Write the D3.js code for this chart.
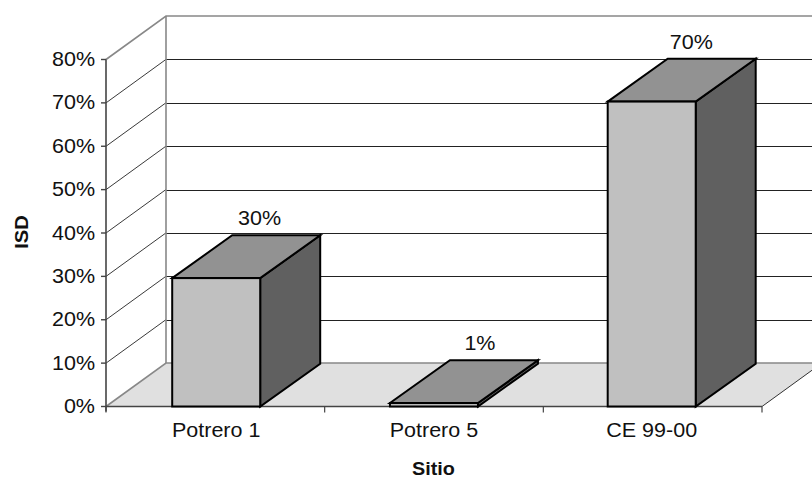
<!DOCTYPE html>
<html><head><meta charset="utf-8">
<style>html,body{margin:0;padding:0;background:#fff}svg{display:block}text{font-family:"Liberation Sans",Arial,sans-serif;fill:#111}</style>
<script src="https://cdn.jsdelivr.net/npm/d3@7"></script>
</head><body><svg id="c" width="812" height="479"></svg>
<script>
const categories = ["Potrero 1","Potrero 5","CE 99-00"];
const values = [29.6, 0.8, 70.3];
const valueLabels = ["30%","1%","70%"];
const yTicks = [0,10,20,30,40,50,60,70,80];
const yTitle = "ISD", xTitle = "Sitio";

const x0=106,x1=762,y0=406.5,y80=59.5,dx=60,dy=-43.5,barW=88,barDy=-42.8;
const svg=d3.select("#c");
const y=d3.scaleLinear().domain([0,80]).range([y0,y80]);
const x=d3.scaleBand().domain(categories).range([x0,x1]);
const barX=d3.scalePoint().domain(categories).range([216.2,651.7]);
const labelDx=[43.3,46,39.6];
const line=d3.line();
const g=svg.append("g");
function label(sel,tx,ty,anchor,size,str,bold,sx=1.05,rot=0){
  const t=sel.append("text")
    .attr("transform",`translate(${tx},${ty}) rotate(${rot}) scale(${sx},1)`)
    .attr("text-anchor",anchor).attr("font-size",size).text(str);
  if(bold)t.attr("font-weight","bold");
  return t;
}
// floor
g.append("path").attr("d",line([[x0,y0],[x0+dx,y0+dy],[x1+dx,y0+dy],[x1,y0]])+"Z").attr("fill","#e0e0e0");
// grid lines on side and back wall
yTicks.slice(1,-1).forEach(t=>{
  g.append("path").attr("d",line([[x0,y(t)],[x0+dx,y(t)+dy]])).attr("fill","none").attr("stroke","#222").attr("stroke-width",.9);
  g.append("line").attr("x1",x0+dx).attr("x2",x1+dx).attr("y1",Math.round(y(t)+dy)+.5).attr("y2",Math.round(y(t)+dy)+.5).attr("stroke","#222").attr("stroke-width",1);
});
// walls outlines
g.append("path").attr("d",line([[x0,y(80)],[x0+dx,y(80)+dy],[x1+dx,y(80)+dy]])).attr("fill","none").attr("stroke","#888").attr("stroke-width",1.6);
g.append("line").attr("x1",x0+dx).attr("x2",x0+dx).attr("y1",y(80)+dy).attr("y2",y0+dy).attr("stroke","#888").attr("stroke-width",1.6);
g.append("path").attr("d",line([[x0,y0],[x0+dx,y0+dy],[x1+dx,y0+dy]])).attr("fill","none").attr("stroke","#888").attr("stroke-width",1.6);
g.append("line").attr("x1",x1).attr("y1",y0).attr("x2",x1+dx).attr("y2",y0+dy).attr("stroke","#333").attr("stroke-width",1);
// axes
const ax=svg.append("g");
ax.append("line").attr("x1",x0).attr("x2",x0).attr("y1",y(80)).attr("y2",y0+5).attr("stroke","#444").attr("stroke-width",1.6);
ax.append("line").attr("x1",x0).attr("x2",x1).attr("y1",y0).attr("y2",y0).attr("stroke","#444").attr("stroke-width",1.6);
yTicks.forEach(t=>{
  ax.append("line").attr("x1",x0-5).attr("x2",x0).attr("y1",y(t)).attr("y2",y(t)).attr("stroke","#444").attr("stroke-width",1.4);
  label(ax,95,y(t)+6.5,"end",20.5,t+"%");
});
[0,1,2,3].forEach(i=>{
  const tx=i<3?x(categories[i]):x1;
  ax.append("line").attr("x1",tx).attr("x2",tx).attr("y1",y0).attr("y2",y0+6).attr("stroke","#444").attr("stroke-width",1.2);
});
categories.forEach(c=>{
  label(ax,barX(c),436.5,"middle",20.5,c);
});
label(svg,433.5,475,"middle",18,xTitle,true,1.1);
label(svg,28,232,"middle",18,yTitle,true,1.12,-90);
// bars
categories.forEach((c,i)=>{
  const l=barX(c)-barW/2, r=l+barW, t=y(values[i]), b=y(0);
  const bg=svg.append("g").attr("stroke","#000").attr("stroke-width",2).attr("stroke-linejoin","miter");
  bg.append("path").attr("d",line([[r,t],[r+dx,t+barDy],[r+dx,b+barDy],[r,b]])+"Z").attr("fill","#606060");
  bg.append("path").attr("d",line([[l,t],[l+dx,t+barDy],[r+dx,t+barDy],[r,t]])+"Z").attr("fill","#929292");
  bg.append("rect").attr("x",l).attr("y",t).attr("width",barW).attr("height",b-t).attr("fill","#c0c0c0");
  label(svg,barX(c)+labelDx[i],t+barDy-10,"middle",20.5,valueLabels[i]);
});
</script></body></html>
